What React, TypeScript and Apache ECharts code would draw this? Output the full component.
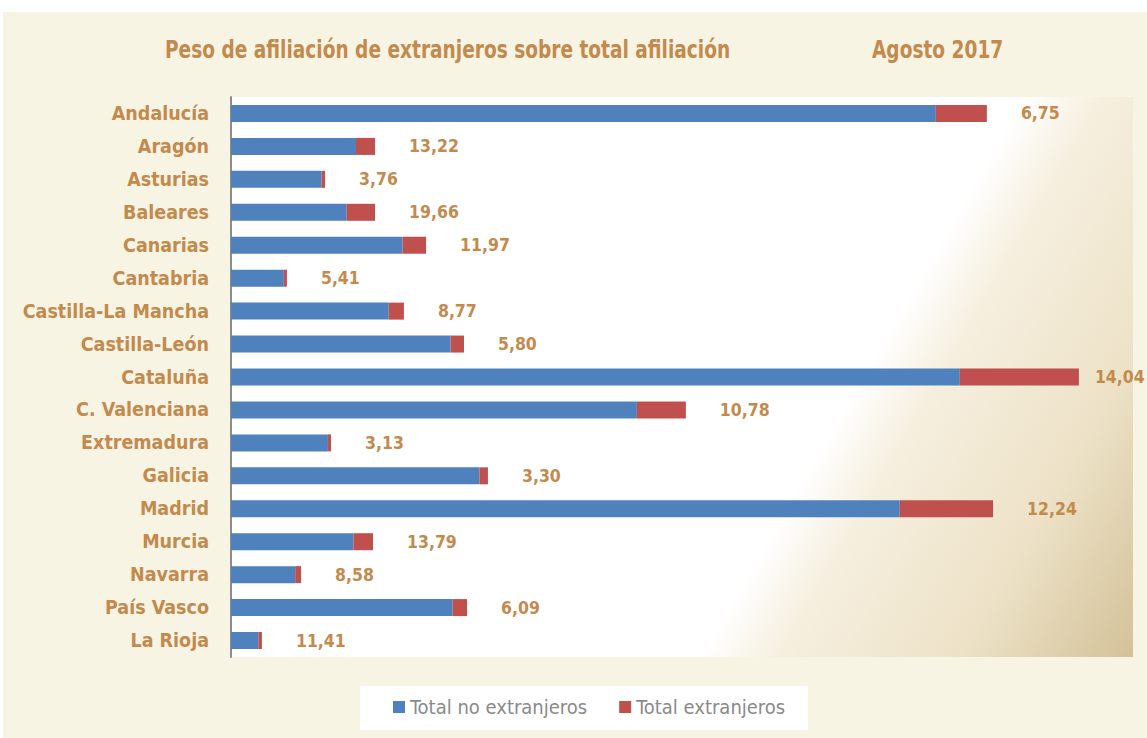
import React, { useEffect, useRef } from "react";
import * as echarts from "echarts";

const regions = [
  "Andalucía", "Aragón", "Asturias", "Baleares", "Canarias", "Cantabria",
  "Castilla-La Mancha", "Castilla-León", "Cataluña", "C. Valenciana",
  "Extremadura", "Galicia", "Madrid", "Murcia", "Navarra", "País Vasco", "La Rioja",
];
// Afiliados (miles)
const noExtranjeros = [2735, 485, 351, 449, 666, 205, 612, 852, 2828, 1575, 376, 964, 2595, 475, 249, 860, 106];
const extranjeros = [198, 74, 14, 110, 91, 12, 59, 52, 462, 190, 12, 33, 362, 76, 23, 56, 14];
const pesoLabels = ["6,75", "13,22", "3,76", "19,66", "11,97", "5,41", "8,77", "5,80", "14,04", "10,78", "3,13", "3,30", "12,24", "13,79", "8,58", "6,09", "11,41"];
const seriesNames = ["Total no extranjeros", "Total extranjeros"];
const titleText = "Peso de afiliación de extranjeros sobre total afiliación";
const dateText = "Agosto 2017";

const TAN = "#c38a4e";
const FONT = "'Liberation Sans Narrow', 'DejaVu Sans Condensed', Arial, sans-serif";
const X_MAX = 3500;

export default function App() {
  const ref = useRef<HTMLDivElement>(null);
  useEffect(() => {
    if (!ref.current) return;
    const chart = echarts.init(ref.current, undefined, { renderer: "svg" });
    const gL = 231, gT = 97, gR = 1133, gB = 657;
    const extData = extranjeros.map((v, i) => {
      const total = v + noExtranjeros[i];
      return total / X_MAX > 0.9 && total > 3200 ? { value: v, label: { distance: 16 } } : v;
    });
    chart.setOption({
      animation: false,
      backgroundColor: "#ffffff",
      graphic: [
        { type: "rect", z: -10, silent: true, shape: { x: 3, y: 12, width: 1144, height: 726 }, style: { fill: "#f8f4e3" } },
        {
          type: "rect", z: -9, silent: true,
          shape: { x: gL, y: gT, width: gR - gL, height: gB - gT },
          style: {
            fill: new echarts.graphic.LinearGradient(700, 657, 1025, 845, [
              { offset: 0, color: "#ffffff" },
              { offset: 0.18, color: "#f6efdf" },
              { offset: 0.6, color: "#ede2c7" },
              { offset: 1, color: "#d3c198" },
            ], true),
          },
        },
        { type: "text", silent: true, x: 165, y: 49, scaleX: 0.86, style: { text: titleText, fill: TAN, font: `bold 24px ${FONT}`, verticalAlign: "middle" } },
        { type: "text", silent: true, x: 872, y: 49, scaleX: 0.86, style: { text: dateText, fill: TAN, font: `bold 24px ${FONT}`, verticalAlign: "middle" } },
        { type: "rect", z: -5, silent: true, shape: { x: 360, y: 686, width: 448, height: 44 }, style: { fill: "#ffffff" } },
      ],
      legend: {
        left: 393, top: 697, padding: 0,
        itemWidth: 12, itemHeight: 12, itemGap: 32, icon: "rect",
        textStyle: { color: "#8a8a8a", fontSize: 20, fontFamily: FONT },
        data: seriesNames,
      },
      grid: { left: gL, top: gT, right: 1147 - gR, bottom: 738 - gB, containLabel: false },
      xAxis: {
        type: "value", min: 0, max: X_MAX,
        axisLine: { show: false }, axisTick: { show: false }, axisLabel: { show: false }, splitLine: { show: false },
      },
      yAxis: {
        type: "category", data: regions, inverse: true,
        axisLine: { show: true, lineStyle: { color: "#8c8c8c", width: 2 } },
        axisTick: { show: false },
        axisLabel: { color: TAN, fontWeight: "bold", fontSize: 19.5, fontFamily: FONT, margin: 22 },
      },
      series: [
        {
          name: seriesNames[0], type: "bar", stack: "t", barWidth: 17,
          itemStyle: { color: "#4f81bd" }, data: noExtranjeros,
        },
        {
          name: seriesNames[1], type: "bar", stack: "t", barWidth: 17,
          itemStyle: { color: "#c0504d" }, data: extData,
          label: {
            show: true, position: "right", distance: 34,
            formatter: (p: any) => pesoLabels[p.dataIndex],
            color: TAN, fontWeight: "bold", fontSize: 17.5, fontFamily: FONT,
          },
        },
      ],
    });
    return () => chart.dispose();
  }, []);
  return <div ref={ref} style={{ position: "fixed", left: 0, top: 0, width: 1147, height: 738 }} />;
}
